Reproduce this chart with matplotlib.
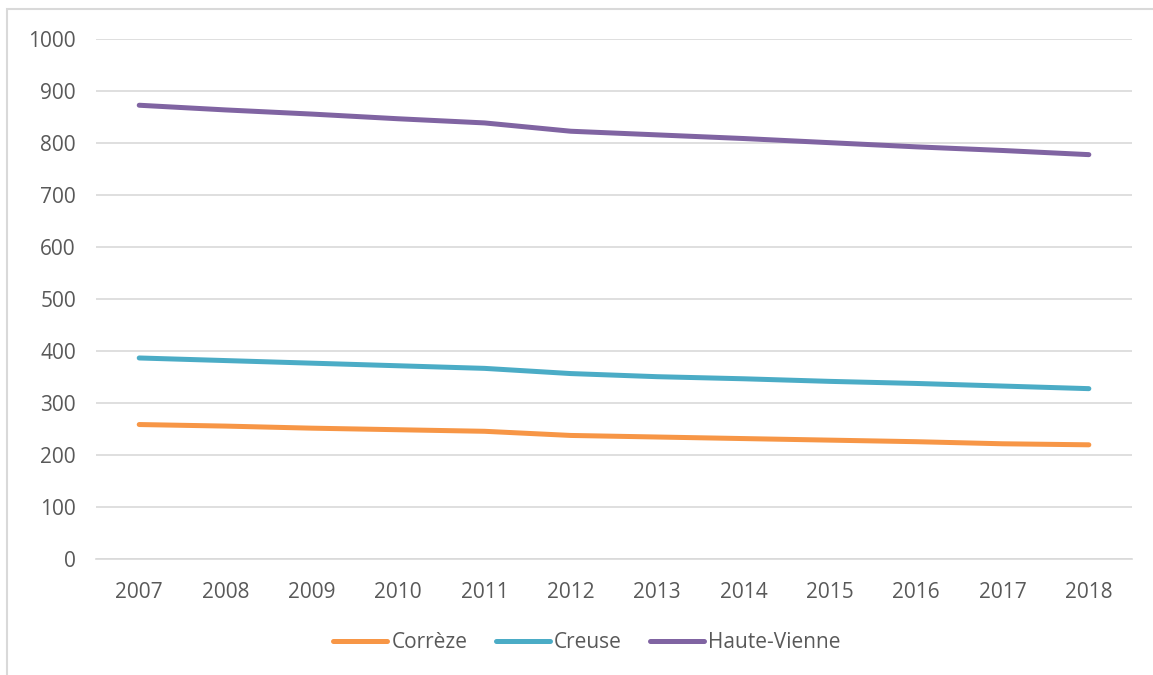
import matplotlib
matplotlib.use("Agg")
import matplotlib.pyplot as plt
from matplotlib.patches import Rectangle

# years and values per department
years = ["2007", "2008", "2009", "2010", "2011", "2012",
         "2013", "2014", "2015", "2016", "2017", "2018"]
correze = [258, 255, 251, 248, 245, 237, 234, 231, 228, 225, 221, 219]
creuse = [386, 381, 376, 371, 366, 356, 350, 346, 341, 337, 332, 327]
haute_vienne = [872, 863, 855, 846, 838, 822, 815, 808, 800, 792, 785, 777]

text_col = "#595959"
grid_col = "#D9D9D9"

plt.rcParams["font.family"] = ["Open Sans", "DejaVu Sans"]

fig = plt.figure(figsize=(11.53, 6.75), dpi=100)
ax = fig.add_axes([0.0833, 0.1723, 0.8985, 0.7704])

x = range(len(years))
ax.plot(x, correze, color="#F79646", lw=3.6, solid_capstyle="round", label="Corrèze")
ax.plot(x, creuse, color="#4BACC6", lw=3.6, solid_capstyle="round", label="Creuse")
ax.plot(x, haute_vienne, color="#8064A2", lw=3.6, solid_capstyle="round", label="Haute-Vienne")

ax.set_xlim(-0.5, len(years) - 0.5)
ax.set_ylim(0, 1000)
ax.set_yticks(range(0, 1001, 100))
ax.set_xticks(list(x))
ax.set_xticklabels(years)
ax.grid(axis="y", color=grid_col, lw=1.2)
ax.set_axisbelow(True)
for s in ["top", "right", "left"]:
    ax.spines[s].set_visible(False)
ax.spines["bottom"].set_color(grid_col)
ax.spines["bottom"].set_linewidth(1.2)
ax.tick_params(axis="both", length=0, labelsize=15, labelcolor=text_col)
ax.tick_params(axis="y", pad=14.5)
ax.tick_params(axis="x", pad=17)

fig.legend(loc="center", bbox_to_anchor=(587 / 1153, 1 - 643 / 675), ncol=3, frameon=False,
           fontsize=15, labelcolor=text_col, handlelength=2.6,
           handletextpad=0.2, columnspacing=1.35)

# chart area border
fig.patches.append(Rectangle((7 / 1153, -0.1), 1.2, 1 - 9 / 675 + 0.1,
                             transform=fig.transFigure, fill=False,
                             edgecolor=grid_col, lw=1.5))

fig.savefig("out.png", dpi=100)
